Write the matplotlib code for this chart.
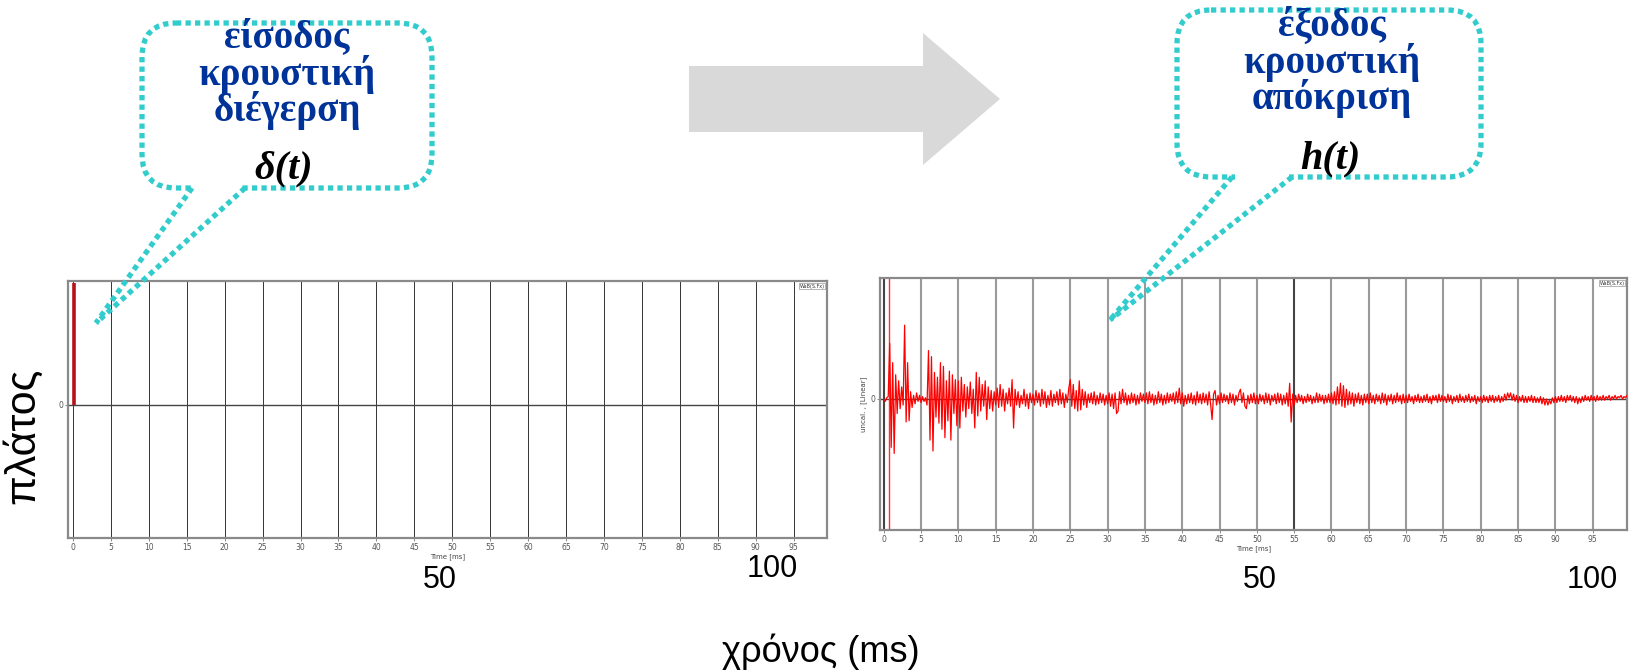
import numpy as np
import matplotlib
matplotlib.use("Agg")
import matplotlib.pyplot as plt
from matplotlib.patches import FancyBboxPatch, Polygon

# ---------------- data ----------------
grid_ticks = list(range(0, 100, 5))
tick_labels = [str(v) for v in grid_ticks]

# input: impulse delta(t)
impulse_t = [0.1]
impulse_amp = [0.98]

h_step_ms = 0.2
h_values = [
    # 0-10 ms
    0.00, -0.02, 0.01, 0.02, 0.46, -0.40, 0.30, -0.45, 0.20, -0.12,
    0.15, -0.08, 0.10, -0.05, 0.61, -0.19, 0.30, -0.18, 0.06, -0.07,
    0.03, -0.04, 0.05, -0.02, 0.03, -0.03, 0.02, -0.02, 0.01, -0.05,
    0.40, -0.34, 0.35, -0.43, 0.22, -0.15, 0.18, -0.20, 0.30, -0.25,
    0.27, -0.32, 0.15, -0.18, 0.23, -0.34, 0.20, -0.12, 0.16, -0.22,
    # 10-20 ms
    0.15, -0.24, 0.18, -0.10, 0.12, -0.15, 0.10, -0.08, 0.14, -0.12,
    0.08, -0.24, 0.22, -0.14, 0.18, -0.10, 0.12, -0.06, 0.15, -0.17,
    0.10, -0.08, 0.07, -0.10, 0.06, -0.05, 0.09, -0.07, 0.12, -0.06,
    0.08, -0.10, 0.05, -0.04, 0.09, -0.06, 0.16, -0.24, 0.08, -0.05,
    0.06, -0.07, 0.03, -0.04, 0.08, -0.06, 0.04, -0.08, 0.05, -0.03,
    # 20-30 ms
    0.04, -0.05, 0.07, -0.03, 0.05, -0.06, 0.08, -0.04, 0.06, -0.07,
    0.03, -0.05, 0.07, -0.06, 0.04, -0.03, 0.06, -0.05, 0.08, -0.04,
    0.05, -0.07, 0.04, -0.03, 0.09, 0.16, -0.06, 0.12, -0.08, 0.07,
    -0.10, 0.15, -0.09, 0.08, -0.05, 0.06, -0.07, 0.04, -0.03, 0.05,
    -0.04, 0.06, -0.05, 0.03, -0.04, 0.05, -0.03, 0.04, -0.05, 0.03,
    # 30-40 ms
    -0.04, 0.05, -0.06, 0.04, -0.08, 0.05, -0.12, -0.10, 0.06, -0.04,
    0.08, -0.03, 0.05, -0.05, 0.03, -0.04, 0.05, -0.03, 0.04, -0.05,
    0.03, -0.04, 0.05, -0.02, 0.04, -0.03, 0.05, -0.04, 0.06, -0.03,
    0.04, -0.05, 0.03, -0.04, 0.06, -0.03, 0.04, -0.05, 0.03, -0.04,
    0.05, -0.03, 0.04, -0.02, 0.05, -0.04, 0.06, -0.03, 0.09, -0.04,
    # 40-50 ms
    0.05, -0.06, 0.03, -0.04, 0.04, -0.03, 0.05, -0.04, 0.03, -0.05,
    0.06, -0.03, 0.04, -0.04, 0.05, -0.03, 0.04, -0.05, 0.06, -0.04,
    -0.17, 0.04, 0.07, -0.05, 0.03, -0.04, 0.05, -0.03, 0.04, -0.02,
    0.03, -0.04, 0.05, -0.03, 0.04, -0.05, 0.03, -0.02, 0.05, 0.08,
    -0.03, 0.05, -0.06, -0.08, 0.03, -0.04, 0.04, -0.03, 0.05, -0.04,
    # 50-60 ms
    0.03, -0.04, 0.04, -0.02, 0.03, -0.04, 0.05, -0.03, 0.04, -0.05,
    0.03, -0.02, 0.04, -0.04, 0.05, -0.03, 0.04, -0.05, 0.03, -0.04,
    0.05, -0.06, 0.13, -0.19, 0.04, -0.05, 0.03, -0.03, 0.04, -0.02,
    0.03, -0.04, 0.02, -0.03, 0.04, -0.02, 0.03, -0.04, 0.02, -0.03,
    0.05, -0.03, 0.04, -0.02, 0.03, -0.04, 0.03, -0.03, 0.04, -0.03,
    # 60-70 ms
    0.05, -0.04, 0.06, -0.05, 0.10, -0.04, 0.13, -0.06, 0.11, -0.07,
    0.08, -0.05, 0.06, -0.04, 0.05, -0.06, 0.04, -0.03, 0.05, -0.04,
    0.03, -0.05, 0.04, -0.03, 0.04, -0.04, 0.05, -0.03, 0.03, -0.04,
    0.04, -0.02, 0.03, -0.04, 0.05, -0.03, 0.04, -0.05, 0.03, -0.02,
    0.04, -0.04, 0.03, -0.03, 0.05, -0.02, 0.03, -0.04, 0.04, -0.03,
    # 70-80 ms
    0.03, -0.03, 0.04, -0.02, 0.02, -0.04, 0.03, -0.02, 0.04, -0.03,
    0.02, -0.03, 0.03, -0.02, 0.04, -0.03, 0.02, -0.04, 0.03, -0.01,
    0.03, -0.03, 0.04, -0.02, 0.03, -0.02, 0.02, -0.03, 0.04, -0.02,
    0.03, -0.04, 0.02, -0.02, 0.03, -0.03, 0.04, -0.02, 0.02, -0.03,
    0.03, -0.02, 0.04, -0.03, 0.02, -0.02, 0.03, -0.04, 0.02, -0.02,
    # 80-90 ms
    0.02, -0.03, 0.03, -0.02, 0.02, -0.03, 0.03, -0.02, 0.03, -0.03,
    0.02, -0.02, 0.03, -0.03, 0.02, -0.02, 0.04, -0.01, 0.05, 0.01,
    0.05, -0.01, 0.04, -0.02, 0.03, -0.03, 0.02, -0.02, 0.03, -0.03,
    0.02, -0.03, 0.02, -0.02, 0.03, -0.03, 0.02, -0.03, 0.01, -0.03,
    0.02, -0.04, 0.01, -0.05, 0.00, -0.05, -0.01, -0.04, 0.01, -0.03,
    # 90-100 ms
    0.02, -0.03, 0.02, -0.02, 0.03, -0.02, 0.02, -0.03, 0.03, -0.01,
    0.03, -0.02, 0.02, -0.03, 0.02, -0.04, 0.01, -0.03, 0.02, -0.02,
    0.03, -0.01, 0.02, -0.02, 0.03, -0.01, 0.02, -0.02, 0.03, -0.01,
    0.02, -0.01, 0.03, -0.01, 0.02, 0.00, 0.03, -0.01, 0.02, 0.00,
    0.03, 0.00, 0.02, 0.01, 0.03, 0.00, 0.02, 0.01, 0.03, 0.01,
]
h_time = np.arange(len(h_values)) * h_step_ms
cursor_t = 0.75

in_title = ["είσοδος", "κρουστική", "διέγερση"]
out_title = ["έξοδος", "κρουστική", "απόκριση"]

# ---------------- figure ----------------
W, H = 1629, 672
fig = plt.figure(figsize=(W / 100, H / 100), dpi=100)
fig.patch.set_facecolor("white")

def px_axes(x0, y0, x1, y1):
    return fig.add_axes([x0 / W, 1 - y1 / H, (x1 - x0) / W, (y1 - y0) / H])

small_font = ["Liberation Sans Narrow", "DejaVu Sans"]

def style_plot(ax, xlim, ylim, grid_color, grid_lw, dark_lines=()):
    ax.set_xlim(*xlim)
    ax.set_ylim(*ylim)
    for v in grid_ticks:
        c = "#444444" if v in dark_lines else grid_color
        ax.axvline(v, color=c, lw=grid_lw, zorder=1)
    ax.axhline(0, color="#444444", lw=1.0, zorder=1)
    ax.set_xticks(grid_ticks)
    ax.set_xticklabels(tick_labels, fontsize=5.5, color="#555555", family=small_font)
    ax.set_yticks([0])
    ax.set_yticklabels(["0"], fontsize=5.5, color="#555555", family=small_font)
    ax.tick_params(length=2, width=0.6, color="#777777", pad=1.5)
    for s in ax.spines.values():
        s.set_color("#8a8a8a")
        s.set_linewidth(1.6)
    ax.set_xlabel("Time [ms]", fontsize=5, color="#444444", labelpad=1, family=small_font)
    ax.text(0.997, 0.99, "WaB(S.Fx)", transform=ax.transAxes, fontsize=3.5,
            ha="right", va="top", color="#333333", family=small_font,
            bbox=dict(boxstyle="square,pad=0.15", fc="white", ec="#999999", lw=0.5))

# left plot: impulse
axL = px_axes(68, 281, 827, 538)
style_plot(axL, (-0.65, 99.4), (-1.073, 1.0), "#333333", 0.7)
axL.vlines(impulse_t, 0, impulse_amp, color="#B5121B", lw=2.6, zorder=3)

# right plot: impulse response
axR = px_axes(880, 278, 1627, 530)
style_plot(axR, (-0.5, 99.6), (-1.083, 1.0), "#9a9a9a", 1.5, dark_lines=(0, 55))
axR.axvline(cursor_t, color="#FF3030", lw=1.0, zorder=2)
axR.plot(h_time, h_values, color="#FF0000", lw=0.9, zorder=3)
axR.set_ylabel("uncal. , [Linear]", fontsize=5, color="#444444", labelpad=2, family=small_font)

# ---------------- overlay (slide elements) ----------------
ov = fig.add_axes([0, 0, 1, 1], zorder=10)
ov.set_xlim(0, W)
ov.set_ylim(H, 0)
ov.axis("off")
ov.patch.set_alpha(0)

teal = "#33CCCC"
dot_ls = (0, (1.0, 0.8))

def bubble(x0, y0, x1, y1, gap, tip):
    box = FancyBboxPatch((x0, y0), x1 - x0, y1 - y0,
                         boxstyle="round,pad=0,rounding_size=34",
                         fc="none", ec=teal, lw=3.8, ls=dot_ls, zorder=2)
    box.set_capstyle("butt")
    ov.add_patch(box)
    # opening in the bottom edge for the tail
    ov.plot([gap[0] + 3, gap[1] - 3], [y1, y1], color="white", lw=7, zorder=3,
            solid_capstyle="butt")
    for gx in gap:
        ov.plot([gx, tip[0]], [y1, tip[1]], color=teal, lw=3.8, ls=dot_ls,
                dash_capstyle="butt", zorder=4)

bubble(142, 23, 432, 188, (192, 245), (96, 323))
bubble(1177, 10, 1481, 177, (1232, 1292), (1110, 320))

title_kw = dict(ha="center", va="center", color="#003399", fontsize=28,
                fontweight="bold", family="Liberation Serif", zorder=5)
for txt, y in zip(in_title, (38, 74.5, 111)):
    ov.text(287, y, txt, **title_kw)
for txt, y in zip(out_title, (26, 62.5, 99)):
    ov.text(1332, y, txt, **title_kw)
math_kw = dict(ha="center", va="center", fontsize=29, color="black",
               fontweight="bold", fontstyle="italic", family="Liberation Serif", zorder=5)
ov.text(284, 169, "δ(t)", **math_kw)
ov.text(1330, 159, "h(t)", **math_kw)

# big grey arrow
arrow = Polygon([(689, 66), (923, 66), (923, 33), (1000, 99), (923, 165),
                 (923, 132), (689, 132)], closed=True, fc="#D9D9D9", ec="none", zorder=1)
ov.add_patch(arrow)

# slide axis labels
big_kw = dict(family="Liberation Sans", color="black", zorder=5)
ov.text(23, 436, "πλάτος", rotation=90, ha="center", va="center", fontsize=31, **big_kw)
ov.text(821, 652, "χρόνος (ms)", ha="center", va="center", fontsize=26, **big_kw)
ov.text(440, 580, "50", ha="center", va="center", fontsize=22, **big_kw)
ov.text(772, 569, "100", ha="center", va="center", fontsize=22, **big_kw)
ov.text(1260, 580, "50", ha="center", va="center", fontsize=22, **big_kw)
ov.text(1592, 580, "100", ha="center", va="center", fontsize=22, **big_kw)

fig.savefig("out.png", dpi=100, facecolor="white")
